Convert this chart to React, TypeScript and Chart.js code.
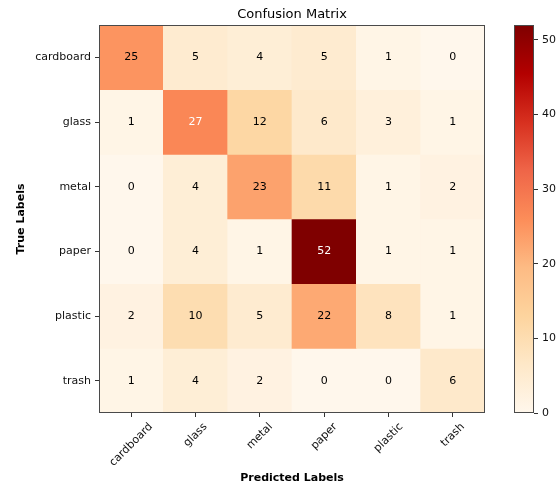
import React, { useEffect, useRef } from "react";
import { Chart, registerables } from "chart.js";

Chart.register(...registerables);

const predictedLabels = ["cardboard", "glass", "metal", "paper", "plastic", "trash"];
const trueLabels = ["cardboard", "glass", "metal", "paper", "plastic", "trash"];

const rowCardboard = [25, 5, 4, 5, 1, 0];
const rowGlass = [1, 27, 12, 6, 3, 1];
const rowMetal = [0, 4, 23, 11, 1, 2];
const rowPaper = [0, 4, 1, 52, 1, 1];
const rowPlastic = [2, 10, 5, 22, 8, 1];
const rowTrash = [1, 4, 2, 0, 0, 6];
const matrix = [rowCardboard, rowGlass, rowMetal, rowPaper, rowPlastic, rowTrash];

const colorbarTicks = [0, 10, 20, 30, 40, 50];

const FONT = "'DejaVu Sans', sans-serif";
const TICK_SIZE = 11;
const OrRd = ["#fff7ec", "#fee8c8", "#fdd49e", "#fdbb84", "#fc8d59", "#ef6548", "#d7301f", "#b30000", "#7f0000"];

function hexToRgb(h: string): number[] {
  return [parseInt(h.slice(1, 3), 16), parseInt(h.slice(3, 5), 16), parseInt(h.slice(5, 7), 16)];
}

function cmap(t: number): string {
  const tt = Math.max(0, Math.min(1, t)) * (OrRd.length - 1);
  const i = Math.min(OrRd.length - 2, Math.floor(tt));
  const f = tt - i;
  const a = hexToRgb(OrRd[i]);
  const b = hexToRgb(OrRd[i + 1]);
  const c = a.map((v, k) => Math.round(v + (b[k] - v) * f));
  return `rgb(${c[0]},${c[1]},${c[2]})`;
}

export default function App() {
  const mainRef = useRef<HTMLCanvasElement>(null);
  const cbRef = useRef<HTMLCanvasElement>(null);

  useEffect(() => {
    const all = matrix.flat();
    const vmax = Math.max(...all);
    const vmin = 0;
    const thresh = vmax / 2;

    const datasets = matrix.map((row, i) => ({
      label: trueLabels[i],
      data: row.map(() => [i - 0.5, i + 0.5]),
      backgroundColor: row.map((v) => cmap((v - vmin) / (vmax - vmin))),
      borderWidth: 0,
      borderSkipped: false,
      barPercentage: 1,
      categoryPercentage: 1,
      grouped: false,
    }));

    const cellText = {
      id: "cellText",
      afterDatasetsDraw(chart: any) {
        const { ctx, scales } = chart;
        ctx.save();
        ctx.font = `${TICK_SIZE}px ${FONT}`;
        ctx.textAlign = "center";
        ctx.textBaseline = "middle";
        matrix.forEach((row, i) => {
          row.forEach((v, j) => {
            ctx.fillStyle = v > thresh ? "#ffffff" : "#000000";
            ctx.fillText(String(v), scales.x.getPixelForValue(j), scales.y.getPixelForValue(i));
          });
        });
        ctx.restore();
      },
    };

    const frame = {
      id: "frame",
      afterDraw(chart: any) {
        const { ctx, chartArea: a, scales } = chart;
        ctx.save();
        ctx.strokeStyle = "#4a4a4a";
        ctx.lineWidth = 1;
        ctx.strokeRect(Math.round(a.left) + 0.5, Math.round(a.top) + 0.5, Math.round(a.right - a.left) - 1, Math.round(a.bottom - a.top) - 1);
        // rotated x tick labels, centred on their tick like matplotlib's rotation=45
        const xs = scales.x;
        ctx.font = `${TICK_SIZE}px ${FONT}`;
        ctx.fillStyle = "#111111";
        ctx.textAlign = "center";
        ctx.textBaseline = "middle";
        const top = xs.top + 4 + 3.5;
        predictedLabels.forEach((lab, j) => {
          const px = xs.getPixelForValue(j);
          const w = ctx.measureText(lab).width;
          const h = TICK_SIZE * 1.16;
          const ext = (w + h) * Math.SQRT1_2;
          ctx.save();
          ctx.translate(px, top + ext / 2);
          ctx.rotate(-Math.PI / 4);
          ctx.fillText(lab, 0, 0);
          ctx.restore();
        });
        ctx.restore();
      },
    };

    const main = new Chart(mainRef.current!, {
      type: "bar",
      data: { labels: predictedLabels, datasets: datasets as any },
      plugins: [cellText, frame],
      options: {
        animation: false,
        responsive: false,
        events: [],
        layout: { padding: { left: 0, right: 73, top: 0, bottom: 0 } },
        plugins: {
          legend: { display: false },
          tooltip: { enabled: false },
          title: {
            display: true,
            text: "Confusion Matrix",
            fullSize: false,
            color: "#000",
            font: { family: FONT, size: 13, weight: "normal" as any },
            padding: { top: 6.4, bottom: 3 },
          },
        },
        scales: {
          x: {
            type: "category",
            offset: true,
            grid: { display: true, drawOnChartArea: false, drawTicks: true, tickLength: 4, offset: false, color: "#333" },
            border: { display: false },
            ticks: { display: false },
            title: {
              display: true,
              text: "Predicted Labels",
              color: "#000",
              font: { family: FONT, size: 11, weight: "bold" },
              padding: { top: 4, bottom: 2.5 },
            },
            afterFit: (s: any) => {
              s.height = 74;
            },
          },
          y: {
            type: "linear",
            min: -0.5,
            max: 5.5,
            reverse: true,
            grid: { display: true, drawOnChartArea: false, drawTicks: true, tickLength: 4, color: "#333" },
            border: { display: false },
            afterBuildTicks: (s: any) => {
              s.ticks = trueLabels.map((_, i) => ({ value: i }));
            },
            ticks: {
              color: "#111",
              padding: 4,
              font: { family: FONT, size: TICK_SIZE },
              callback: (v: any) => trueLabels[Number(v)] ?? "",
            },
            title: {
              display: true,
              text: "True Labels",
              color: "#000",
              font: { family: FONT, size: 11, weight: "bold" },
              padding: { top: 15, bottom: 4 },
            },
            afterFit: (s: any) => {
              s.width = 99;
            },
          },
        },
      } as any,
    });

    const cbFrame = {
      id: "cbFrame",
      afterDraw(chart: any) {
        const { ctx, chartArea: a } = chart;
        ctx.save();
        ctx.strokeStyle = "#4a4a4a";
        ctx.lineWidth = 1;
        ctx.strokeRect(Math.round(a.left) + 0.5, Math.round(a.top) + 0.5, Math.round(a.right - a.left) - 1, Math.round(a.bottom - a.top) - 1);
        ctx.restore();
      },
    };

    const cb = new Chart(cbRef.current!, {
      type: "bar",
      data: {
        labels: ["colorbar"],
        datasets: [
          {
            data: [[vmin, vmax]] as any,
            backgroundColor: (c: any) => {
              const a = c.chart.chartArea;
              if (!a) return OrRd[0];
              const g = c.chart.ctx.createLinearGradient(0, a.bottom, 0, a.top);
              OrRd.forEach((col, k) => g.addColorStop(k / (OrRd.length - 1), col));
              return g;
            },
            borderWidth: 0,
            barPercentage: 1,
            categoryPercentage: 1,
          },
        ],
      },
      plugins: [cbFrame],
      options: {
        animation: false,
        responsive: false,
        events: [],
        layout: { padding: { left: 14, right: 0, top: 25, bottom: 74 } },
        plugins: { legend: { display: false }, tooltip: { enabled: false }, title: { display: false } },
        scales: {
          x: { display: false },
          y: {
            position: "right",
            min: vmin,
            max: vmax,
            grid: { display: true, drawOnChartArea: false, drawTicks: true, tickLength: 4, color: "#333" },
            border: { display: false },
            afterBuildTicks: (s: any) => {
              s.ticks = colorbarTicks.map((v) => ({ value: v }));
            },
            ticks: { color: "#111", padding: 4, font: { family: FONT, size: TICK_SIZE } },
            afterFit: (s: any) => {
              s.width = 24;
            },
          },
        },
      } as any,
    });

    return () => {
      main.destroy();
      cb.destroy();
    };
  }, []);

  return (
    <div style={{ position: "fixed", left: 0, top: 0, width: 558, height: 487, background: "#fff" }}>
      <canvas ref={mainRef} width={558} height={487} style={{ position: "absolute", left: 0, top: 0 }} />
      <canvas ref={cbRef} width={58} height={487} style={{ position: "absolute", left: 500, top: 0 }} />
    </div>
  );
}
